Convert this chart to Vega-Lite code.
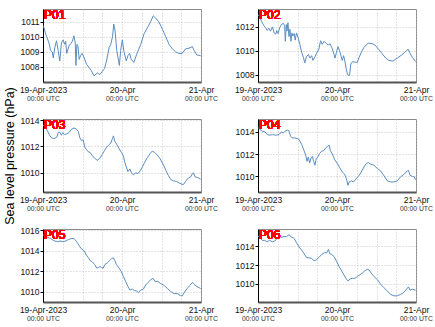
{
"$schema":"https://vega.github.io/schema/vega-lite/v6.json",
"padding":{"left":2,"top":8,"right":0,"bottom":0},
"bounds":"flush",
"columns":2,
"spacing":{"row":37,"column":57},
"config":{
 "font":"Liberation Sans",
 "view":{"stroke":"#8a8a8a","strokeWidth":1},
 "axis":{"labelFont":"Liberation Sans","labelFontSize":8.5,"labelColor":"#111","gridColor":"#b8b8b8","gridDash":[1,2],"gridWidth":0.8,"titleFont":"Liberation Sans","titleFontWeight":"normal","titleColor":"#000"},
 "axisY":{"domainColor":"#000","tickColor":"#000","tickSize":3,"labelPadding":1,"grid":true,"format":"d"}
},
"datasets":{
"P01":[
{"t":"2023-04-19T00:00Z","p":1010.74},{"t":"2023-04-19T00:18Z","p":1010.6},{"t":"2023-04-19T00:48Z","p":1010.2},{"t":"2023-04-19T01:48Z","p":1009.6},{"t":"2023-04-19T02:18Z","p":1009.1},{"t":"2023-04-19T02:48Z","p":1009.0},{"t":"2023-04-19T03:06Z","p":1008.6},{"t":"2023-04-19T03:36Z","p":1009.3},{"t":"2023-04-19T04:06Z","p":1009.74},{"t":"2023-04-19T04:36Z","p":1009.1},{"t":"2023-04-19T05:06Z","p":1008.4},{"t":"2023-04-19T05:36Z","p":1009.6},{"t":"2023-04-19T06:06Z","p":1009.8},{"t":"2023-04-19T06:36Z","p":1009.5},{"t":"2023-04-19T06:54Z","p":1009.7},{"t":"2023-04-19T07:12Z","p":1008.9},{"t":"2023-04-19T07:54Z","p":1009.4},{"t":"2023-04-19T08:24Z","p":1009.55},{"t":"2023-04-19T08:54Z","p":1009.7},{"t":"2023-04-19T09:24Z","p":1010.07},{"t":"2023-04-19T09:48Z","p":1009.6},{"t":"2023-04-19T10:00Z","p":1008.1},{"t":"2023-04-19T10:18Z","p":1009.5},{"t":"2023-04-19T10:36Z","p":1009.4},{"t":"2023-04-19T11:00Z","p":1008.5},{"t":"2023-04-19T11:24Z","p":1008.75},{"t":"2023-04-19T11:54Z","p":1008.9},{"t":"2023-04-19T12:30Z","p":1008.6},{"t":"2023-04-19T13:18Z","p":1008.15},{"t":"2023-04-19T14:00Z","p":1007.97},{"t":"2023-04-19T14:42Z","p":1007.75},{"t":"2023-04-19T15:30Z","p":1007.4},{"t":"2023-04-19T16:30Z","p":1007.6},{"t":"2023-04-19T17:18Z","p":1007.5},{"t":"2023-04-19T18:00Z","p":1007.7},{"t":"2023-04-19T18:42Z","p":1007.9},{"t":"2023-04-19T19:18Z","p":1008.4},{"t":"2023-04-19T20:06Z","p":1009.3},{"t":"2023-04-19T20:36Z","p":1009.5},{"t":"2023-04-19T21:06Z","p":1010.0},{"t":"2023-04-19T21:30Z","p":1010.85},{"t":"2023-04-19T21:54Z","p":1010.4},{"t":"2023-04-19T22:24Z","p":1009.1},{"t":"2023-04-19T22:48Z","p":1008.6},{"t":"2023-04-19T23:12Z","p":1008.1},{"t":"2023-04-19T23:36Z","p":1009.1},{"t":"2023-04-20T00:06Z","p":1009.8},{"t":"2023-04-20T00:36Z","p":1009.0},{"t":"2023-04-20T01:18Z","p":1008.4},{"t":"2023-04-20T01:48Z","p":1008.75},{"t":"2023-04-20T02:18Z","p":1008.9},{"t":"2023-04-20T02:48Z","p":1008.5},{"t":"2023-04-20T03:36Z","p":1008.3},{"t":"2023-04-20T04:30Z","p":1008.86},{"t":"2023-04-20T05:42Z","p":1009.5},{"t":"2023-04-20T06:42Z","p":1010.2},{"t":"2023-04-20T07:42Z","p":1010.6},{"t":"2023-04-20T08:42Z","p":1011.0},{"t":"2023-04-20T09:30Z","p":1011.4},{"t":"2023-04-20T10:12Z","p":1011.25},{"t":"2023-04-20T11:12Z","p":1011.0},{"t":"2023-04-20T12:18Z","p":1010.5},{"t":"2023-04-20T13:18Z","p":1010.0},{"t":"2023-04-20T14:18Z","p":1009.5},{"t":"2023-04-20T15:18Z","p":1009.2},{"t":"2023-04-20T16:18Z","p":1009.0},{"t":"2023-04-20T17:18Z","p":1008.9},{"t":"2023-04-20T18:18Z","p":1008.9},{"t":"2023-04-20T19:18Z","p":1009.2},{"t":"2023-04-20T20:24Z","p":1009.25},{"t":"2023-04-20T21:24Z","p":1009.35},{"t":"2023-04-20T21:54Z","p":1009.1},{"t":"2023-04-20T22:42Z","p":1008.8},{"t":"2023-04-20T23:54Z","p":1008.75}
],
"P02":[
{"t":"2023-04-19T00:00Z","p":1013.0},{"t":"2023-04-19T00:30Z","p":1012.9},{"t":"2023-04-19T01:06Z","p":1012.45},{"t":"2023-04-19T01:48Z","p":1012.1},{"t":"2023-04-19T02:18Z","p":1011.95},{"t":"2023-04-19T02:48Z","p":1011.7},{"t":"2023-04-19T03:18Z","p":1011.9},{"t":"2023-04-19T03:48Z","p":1011.65},{"t":"2023-04-19T04:24Z","p":1012.0},{"t":"2023-04-19T04:54Z","p":1011.5},{"t":"2023-04-19T05:24Z","p":1011.4},{"t":"2023-04-19T05:42Z","p":1011.7},{"t":"2023-04-19T06:06Z","p":1011.45},{"t":"2023-04-19T06:36Z","p":1011.95},{"t":"2023-04-19T07:06Z","p":1012.2},{"t":"2023-04-19T07:42Z","p":1012.3},{"t":"2023-04-19T08:06Z","p":1012.1},{"t":"2023-04-19T08:18Z","p":1010.8},{"t":"2023-04-19T08:36Z","p":1012.2},{"t":"2023-04-19T08:48Z","p":1011.65},{"t":"2023-04-19T09:06Z","p":1012.35},{"t":"2023-04-19T09:24Z","p":1011.2},{"t":"2023-04-19T09:42Z","p":1011.8},{"t":"2023-04-19T10:00Z","p":1010.8},{"t":"2023-04-19T10:18Z","p":1011.5},{"t":"2023-04-19T10:36Z","p":1011.25},{"t":"2023-04-19T11:00Z","p":1011.45},{"t":"2023-04-19T11:18Z","p":1010.9},{"t":"2023-04-19T11:42Z","p":1011.5},{"t":"2023-04-19T12:12Z","p":1011.1},{"t":"2023-04-19T12:42Z","p":1010.55},{"t":"2023-04-19T13:18Z","p":1009.85},{"t":"2023-04-19T13:48Z","p":1009.45},{"t":"2023-04-19T14:12Z","p":1009.0},{"t":"2023-04-19T14:42Z","p":1009.5},{"t":"2023-04-19T15:18Z","p":1009.7},{"t":"2023-04-19T15:48Z","p":1009.4},{"t":"2023-04-19T16:18Z","p":1009.6},{"t":"2023-04-19T16:42Z","p":1009.2},{"t":"2023-04-19T17:18Z","p":1009.5},{"t":"2023-04-19T17:48Z","p":1009.8},{"t":"2023-04-19T18:30Z","p":1010.15},{"t":"2023-04-19T19:00Z","p":1010.85},{"t":"2023-04-19T19:30Z","p":1010.55},{"t":"2023-04-19T20:06Z","p":1010.8},{"t":"2023-04-19T20:48Z","p":1010.6},{"t":"2023-04-19T21:24Z","p":1010.5},{"t":"2023-04-19T21:54Z","p":1010.6},{"t":"2023-04-19T22:36Z","p":1010.15},{"t":"2023-04-19T23:06Z","p":1009.7},{"t":"2023-04-19T23:24Z","p":1009.4},{"t":"2023-04-19T23:48Z","p":1009.85},{"t":"2023-04-20T00:18Z","p":1010.35},{"t":"2023-04-20T00:48Z","p":1010.0},{"t":"2023-04-20T01:18Z","p":1009.5},{"t":"2023-04-20T01:36Z","p":1009.2},{"t":"2023-04-20T02:00Z","p":1009.6},{"t":"2023-04-20T02:24Z","p":1009.15},{"t":"2023-04-20T02:48Z","p":1008.5},{"t":"2023-04-20T03:12Z","p":1008.0},{"t":"2023-04-20T03:48Z","p":1007.95},{"t":"2023-04-20T04:12Z","p":1008.9},{"t":"2023-04-20T04:42Z","p":1009.1},{"t":"2023-04-20T05:30Z","p":1009.05},{"t":"2023-04-20T06:12Z","p":1009.05},{"t":"2023-04-20T06:42Z","p":1009.45},{"t":"2023-04-20T07:30Z","p":1009.95},{"t":"2023-04-20T08:12Z","p":1010.3},{"t":"2023-04-20T08:54Z","p":1010.5},{"t":"2023-04-20T09:30Z","p":1010.65},{"t":"2023-04-20T10:42Z","p":1010.6},{"t":"2023-04-20T11:30Z","p":1010.5},{"t":"2023-04-20T12:36Z","p":1010.15},{"t":"2023-04-20T13:36Z","p":1009.8},{"t":"2023-04-20T14:48Z","p":1009.4},{"t":"2023-04-20T15:48Z","p":1009.2},{"t":"2023-04-20T17:00Z","p":1009.15},{"t":"2023-04-20T18:18Z","p":1009.4},{"t":"2023-04-20T19:36Z","p":1009.65},{"t":"2023-04-20T20:54Z","p":1009.95},{"t":"2023-04-20T21:36Z","p":1010.15},{"t":"2023-04-20T22:12Z","p":1009.8},{"t":"2023-04-20T22:54Z","p":1009.45},{"t":"2023-04-20T23:54Z","p":1009.1}
],
"P03":[
{"t":"2023-04-19T00:00Z","p":1013.6},{"t":"2023-04-19T00:48Z","p":1013.55},{"t":"2023-04-19T01:18Z","p":1013.2},{"t":"2023-04-19T02:00Z","p":1012.85},{"t":"2023-04-19T02:36Z","p":1012.65},{"t":"2023-04-19T03:18Z","p":1012.6},{"t":"2023-04-19T04:12Z","p":1012.7},{"t":"2023-04-19T04:36Z","p":1013.05},{"t":"2023-04-19T05:00Z","p":1013.1},{"t":"2023-04-19T05:36Z","p":1012.85},{"t":"2023-04-19T06:00Z","p":1013.05},{"t":"2023-04-19T06:36Z","p":1012.9},{"t":"2023-04-19T07:12Z","p":1012.95},{"t":"2023-04-19T07:54Z","p":1013.05},{"t":"2023-04-19T08:36Z","p":1013.3},{"t":"2023-04-19T09:24Z","p":1013.4},{"t":"2023-04-19T10:12Z","p":1013.3},{"t":"2023-04-19T10:42Z","p":1013.15},{"t":"2023-04-19T11:12Z","p":1012.65},{"t":"2023-04-19T11:42Z","p":1012.45},{"t":"2023-04-19T12:12Z","p":1012.5},{"t":"2023-04-19T12:42Z","p":1011.95},{"t":"2023-04-19T13:06Z","p":1011.8},{"t":"2023-04-19T13:42Z","p":1011.6},{"t":"2023-04-19T14:18Z","p":1011.55},{"t":"2023-04-19T15:00Z","p":1011.3},{"t":"2023-04-19T15:42Z","p":1011.1},{"t":"2023-04-19T16:30Z","p":1010.95},{"t":"2023-04-19T17:18Z","p":1011.1},{"t":"2023-04-19T18:00Z","p":1011.4},{"t":"2023-04-19T18:42Z","p":1011.7},{"t":"2023-04-19T19:18Z","p":1011.95},{"t":"2023-04-19T20:06Z","p":1012.15},{"t":"2023-04-19T20:36Z","p":1012.25},{"t":"2023-04-19T21:06Z","p":1012.6},{"t":"2023-04-19T21:24Z","p":1012.8},{"t":"2023-04-19T21:48Z","p":1012.4},{"t":"2023-04-19T22:24Z","p":1012.15},{"t":"2023-04-19T23:06Z","p":1011.85},{"t":"2023-04-19T23:48Z","p":1011.55},{"t":"2023-04-20T00:24Z","p":1011.3},{"t":"2023-04-20T00:48Z","p":1010.85},{"t":"2023-04-20T01:18Z","p":1010.45},{"t":"2023-04-20T01:48Z","p":1010.1},{"t":"2023-04-20T02:24Z","p":1010.3},{"t":"2023-04-20T02:54Z","p":1010.0},{"t":"2023-04-20T03:24Z","p":1009.85},{"t":"2023-04-20T04:12Z","p":1010.0},{"t":"2023-04-20T04:54Z","p":1009.95},{"t":"2023-04-20T05:30Z","p":1010.15},{"t":"2023-04-20T06:12Z","p":1010.45},{"t":"2023-04-20T06:54Z","p":1010.8},{"t":"2023-04-20T07:42Z","p":1011.15},{"t":"2023-04-20T08:30Z","p":1011.45},{"t":"2023-04-20T09:12Z","p":1011.65},{"t":"2023-04-20T09:54Z","p":1011.55},{"t":"2023-04-20T10:42Z","p":1011.35},{"t":"2023-04-20T11:30Z","p":1011.1},{"t":"2023-04-20T12:30Z","p":1010.65},{"t":"2023-04-20T13:18Z","p":1010.2},{"t":"2023-04-20T14:06Z","p":1009.8},{"t":"2023-04-20T14:48Z","p":1009.5},{"t":"2023-04-20T15:36Z","p":1009.4},{"t":"2023-04-20T16:36Z","p":1009.35},{"t":"2023-04-20T17:36Z","p":1009.2},{"t":"2023-04-20T18:36Z","p":1009.1},{"t":"2023-04-20T19:18Z","p":1009.35},{"t":"2023-04-20T20:06Z","p":1009.6},{"t":"2023-04-20T20:54Z","p":1009.7},{"t":"2023-04-20T21:24Z","p":1009.95},{"t":"2023-04-20T21:42Z","p":1010.0},{"t":"2023-04-20T22:12Z","p":1009.7},{"t":"2023-04-20T22:54Z","p":1009.65},{"t":"2023-04-20T23:24Z","p":1009.6},{"t":"2023-04-20T23:54Z","p":1009.5}
],
"P04":[
{"t":"2023-04-19T00:00Z","p":1014.4},{"t":"2023-04-19T00:36Z","p":1014.2},{"t":"2023-04-19T01:18Z","p":1014.05},{"t":"2023-04-19T02:06Z","p":1014.0},{"t":"2023-04-19T02:48Z","p":1013.75},{"t":"2023-04-19T03:30Z","p":1013.7},{"t":"2023-04-19T04:24Z","p":1013.75},{"t":"2023-04-19T05:24Z","p":1013.7},{"t":"2023-04-19T06:24Z","p":1013.75},{"t":"2023-04-19T07:06Z","p":1014.0},{"t":"2023-04-19T07:42Z","p":1013.9},{"t":"2023-04-19T08:12Z","p":1014.05},{"t":"2023-04-19T08:54Z","p":1014.15},{"t":"2023-04-19T09:24Z","p":1014.1},{"t":"2023-04-19T09:54Z","p":1013.6},{"t":"2023-04-19T10:24Z","p":1013.45},{"t":"2023-04-19T11:12Z","p":1013.45},{"t":"2023-04-19T11:54Z","p":1013.4},{"t":"2023-04-19T12:30Z","p":1013.3},{"t":"2023-04-19T13:18Z","p":1012.85},{"t":"2023-04-19T14:00Z","p":1012.3},{"t":"2023-04-19T14:30Z","p":1011.9},{"t":"2023-04-19T14:54Z","p":1011.35},{"t":"2023-04-19T15:18Z","p":1011.75},{"t":"2023-04-19T15:42Z","p":1011.2},{"t":"2023-04-19T16:06Z","p":1011.65},{"t":"2023-04-19T16:30Z","p":1011.8},{"t":"2023-04-19T16:54Z","p":1011.35},{"t":"2023-04-19T17:18Z","p":1011.0},{"t":"2023-04-19T17:42Z","p":1011.6},{"t":"2023-04-19T18:12Z","p":1011.75},{"t":"2023-04-19T18:42Z","p":1012.05},{"t":"2023-04-19T19:18Z","p":1012.25},{"t":"2023-04-19T19:54Z","p":1012.3},{"t":"2023-04-19T20:36Z","p":1012.55},{"t":"2023-04-19T21:12Z","p":1012.7},{"t":"2023-04-19T21:36Z","p":1012.8},{"t":"2023-04-19T22:00Z","p":1012.3},{"t":"2023-04-19T22:36Z","p":1012.0},{"t":"2023-04-19T23:18Z","p":1011.5},{"t":"2023-04-20T00:06Z","p":1011.15},{"t":"2023-04-20T00:48Z","p":1010.8},{"t":"2023-04-20T01:36Z","p":1010.4},{"t":"2023-04-20T02:18Z","p":1010.2},{"t":"2023-04-20T02:54Z","p":1009.75},{"t":"2023-04-20T03:18Z","p":1009.2},{"t":"2023-04-20T03:42Z","p":1009.5},{"t":"2023-04-20T04:24Z","p":1009.6},{"t":"2023-04-20T05:00Z","p":1009.5},{"t":"2023-04-20T05:42Z","p":1009.75},{"t":"2023-04-20T06:30Z","p":1010.0},{"t":"2023-04-20T07:18Z","p":1010.35},{"t":"2023-04-20T08:12Z","p":1010.85},{"t":"2023-04-20T08:54Z","p":1011.15},{"t":"2023-04-20T09:30Z","p":1011.25},{"t":"2023-04-20T10:12Z","p":1011.1},{"t":"2023-04-20T11:12Z","p":1011.0},{"t":"2023-04-20T12:18Z","p":1010.7},{"t":"2023-04-20T13:12Z","p":1010.5},{"t":"2023-04-20T14:18Z","p":1010.05},{"t":"2023-04-20T15:18Z","p":1009.6},{"t":"2023-04-20T16:18Z","p":1009.5},{"t":"2023-04-20T17:18Z","p":1009.5},{"t":"2023-04-20T18:18Z","p":1009.6},{"t":"2023-04-20T19:18Z","p":1009.95},{"t":"2023-04-20T20:24Z","p":1010.2},{"t":"2023-04-20T21:24Z","p":1010.5},{"t":"2023-04-20T21:42Z","p":1010.55},{"t":"2023-04-20T22:12Z","p":1010.1},{"t":"2023-04-20T22:54Z","p":1010.0},{"t":"2023-04-20T23:30Z","p":1009.95},{"t":"2023-04-20T23:54Z","p":1009.7}
],
"P05":[
{"t":"2023-04-19T00:00Z","p":1015.55},{"t":"2023-04-19T00:48Z","p":1015.45},{"t":"2023-04-19T01:30Z","p":1015.3},{"t":"2023-04-19T02:18Z","p":1015.2},{"t":"2023-04-19T03:00Z","p":1015.05},{"t":"2023-04-19T03:36Z","p":1014.95},{"t":"2023-04-19T04:24Z","p":1014.9},{"t":"2023-04-19T05:12Z","p":1014.95},{"t":"2023-04-19T06:00Z","p":1014.9},{"t":"2023-04-19T06:54Z","p":1014.95},{"t":"2023-04-19T07:42Z","p":1015.1},{"t":"2023-04-19T08:36Z","p":1015.2},{"t":"2023-04-19T09:24Z","p":1015.2},{"t":"2023-04-19T10:12Z","p":1014.9},{"t":"2023-04-19T10:54Z","p":1014.55},{"t":"2023-04-19T11:36Z","p":1014.2},{"t":"2023-04-19T12:30Z","p":1014.0},{"t":"2023-04-19T13:06Z","p":1013.6},{"t":"2023-04-19T13:42Z","p":1013.35},{"t":"2023-04-19T14:18Z","p":1013.05},{"t":"2023-04-19T15:00Z","p":1012.9},{"t":"2023-04-19T15:42Z","p":1012.65},{"t":"2023-04-19T16:18Z","p":1012.3},{"t":"2023-04-19T16:48Z","p":1012.35},{"t":"2023-04-19T17:18Z","p":1012.45},{"t":"2023-04-19T17:48Z","p":1012.35},{"t":"2023-04-19T18:18Z","p":1012.3},{"t":"2023-04-19T18:48Z","p":1012.65},{"t":"2023-04-19T19:30Z","p":1012.8},{"t":"2023-04-19T20:18Z","p":1013.05},{"t":"2023-04-19T20:54Z","p":1013.25},{"t":"2023-04-19T21:24Z","p":1013.3},{"t":"2023-04-19T21:48Z","p":1013.05},{"t":"2023-04-19T22:18Z","p":1012.65},{"t":"2023-04-19T23:06Z","p":1012.3},{"t":"2023-04-19T23:48Z","p":1011.95},{"t":"2023-04-20T00:24Z","p":1011.5},{"t":"2023-04-20T01:06Z","p":1011.0},{"t":"2023-04-20T01:48Z","p":1010.5},{"t":"2023-04-20T02:24Z","p":1010.15},{"t":"2023-04-20T03:06Z","p":1010.25},{"t":"2023-04-20T03:48Z","p":1010.1},{"t":"2023-04-20T04:30Z","p":1010.05},{"t":"2023-04-20T05:00Z","p":1009.9},{"t":"2023-04-20T05:42Z","p":1010.15},{"t":"2023-04-20T06:30Z","p":1010.25},{"t":"2023-04-20T07:12Z","p":1010.65},{"t":"2023-04-20T07:54Z","p":1010.9},{"t":"2023-04-20T08:42Z","p":1011.15},{"t":"2023-04-20T09:24Z","p":1011.3},{"t":"2023-04-20T10:00Z","p":1011.0},{"t":"2023-04-20T10:54Z","p":1011.0},{"t":"2023-04-20T11:42Z","p":1010.8},{"t":"2023-04-20T12:48Z","p":1010.6},{"t":"2023-04-20T13:48Z","p":1010.3},{"t":"2023-04-20T14:48Z","p":1010.0},{"t":"2023-04-20T15:48Z","p":1009.8},{"t":"2023-04-20T16:48Z","p":1009.8},{"t":"2023-04-20T17:48Z","p":1009.6},{"t":"2023-04-20T18:24Z","p":1009.6},{"t":"2023-04-20T19:00Z","p":1009.95},{"t":"2023-04-20T19:48Z","p":1010.3},{"t":"2023-04-20T20:36Z","p":1010.6},{"t":"2023-04-20T21:24Z","p":1010.9},{"t":"2023-04-20T21:54Z","p":1010.7},{"t":"2023-04-20T22:42Z","p":1010.5},{"t":"2023-04-20T23:54Z","p":1010.3}
],
"P06":[
{"t":"2023-04-19T00:00Z","p":1015.05},{"t":"2023-04-19T00:36Z","p":1014.9},{"t":"2023-04-19T01:18Z","p":1014.6},{"t":"2023-04-19T02:00Z","p":1014.6},{"t":"2023-04-19T02:48Z","p":1014.45},{"t":"2023-04-19T03:30Z","p":1014.6},{"t":"2023-04-19T04:24Z","p":1014.45},{"t":"2023-04-19T05:12Z","p":1014.55},{"t":"2023-04-19T06:00Z","p":1014.9},{"t":"2023-04-19T06:54Z","p":1014.9},{"t":"2023-04-19T07:54Z","p":1015.0},{"t":"2023-04-19T08:42Z","p":1015.0},{"t":"2023-04-19T09:24Z","p":1015.2},{"t":"2023-04-19T10:12Z","p":1014.95},{"t":"2023-04-19T11:00Z","p":1014.8},{"t":"2023-04-19T11:42Z","p":1014.35},{"t":"2023-04-19T12:30Z","p":1013.9},{"t":"2023-04-19T13:18Z","p":1013.55},{"t":"2023-04-19T14:00Z","p":1013.2},{"t":"2023-04-19T14:42Z","p":1012.8},{"t":"2023-04-19T15:30Z","p":1012.75},{"t":"2023-04-19T16:18Z","p":1012.7},{"t":"2023-04-19T17:00Z","p":1012.45},{"t":"2023-04-19T17:42Z","p":1012.55},{"t":"2023-04-19T18:30Z","p":1012.8},{"t":"2023-04-19T19:18Z","p":1013.1},{"t":"2023-04-19T20:12Z","p":1013.3},{"t":"2023-04-19T20:54Z","p":1013.3},{"t":"2023-04-19T21:24Z","p":1013.65},{"t":"2023-04-19T21:48Z","p":1013.2},{"t":"2023-04-19T22:24Z","p":1013.1},{"t":"2023-04-19T23:06Z","p":1012.9},{"t":"2023-04-19T23:48Z","p":1012.45},{"t":"2023-04-20T00:36Z","p":1011.85},{"t":"2023-04-20T01:24Z","p":1011.4},{"t":"2023-04-20T02:06Z","p":1010.95},{"t":"2023-04-20T02:48Z","p":1010.55},{"t":"2023-04-20T03:24Z","p":1010.3},{"t":"2023-04-20T04:00Z","p":1010.55},{"t":"2023-04-20T04:42Z","p":1010.6},{"t":"2023-04-20T05:30Z","p":1010.6},{"t":"2023-04-20T06:12Z","p":1010.8},{"t":"2023-04-20T06:54Z","p":1010.95},{"t":"2023-04-20T07:42Z","p":1011.15},{"t":"2023-04-20T08:30Z","p":1011.4},{"t":"2023-04-20T09:12Z","p":1011.55},{"t":"2023-04-20T09:42Z","p":1011.5},{"t":"2023-04-20T10:24Z","p":1011.15},{"t":"2023-04-20T11:12Z","p":1010.8},{"t":"2023-04-20T12:18Z","p":1010.45},{"t":"2023-04-20T13:18Z","p":1009.95},{"t":"2023-04-20T14:18Z","p":1009.6},{"t":"2023-04-20T15:18Z","p":1009.25},{"t":"2023-04-20T16:18Z","p":1008.9},{"t":"2023-04-20T17:18Z","p":1008.75},{"t":"2023-04-20T18:18Z","p":1008.75},{"t":"2023-04-20T19:18Z","p":1008.9},{"t":"2023-04-20T20:06Z","p":1009.05},{"t":"2023-04-20T20:54Z","p":1009.35},{"t":"2023-04-20T21:42Z","p":1009.7},{"t":"2023-04-20T22:12Z","p":1009.35},{"t":"2023-04-20T22:54Z","p":1009.45},{"t":"2023-04-20T23:54Z","p":1009.35}
]
},
"concat":[
{"width":158,"height":73,"data":{"name":"P01"},"resolve":{"axis":{"x":"independent"}},"layer":[
 {"mark":{"type":"line","clip":true,"color":"#5b8dc0","strokeWidth":1},"encoding":{
  "x":{"field":"t","type":"temporal","title":null,"scale":{"type":"utc","domain":[1681862400000,1682035200000]},"axis":{"orient":"bottom","values":[1681862400000,1681884000000,1681905600000,1681927200000,1681948800000,1681970400000,1681992000000,1682013600000,1682035200000],"labelExpr":"utchours(datum.value) == 0 ? (utcdate(datum.value) == 19 ? '19-Apr-2023' : utcFormat(datum.value, '%d-%b')) : ''","grid":true,"tickSize":0,"labelPadding":3,"domainColor":"#555","domainWidth":2,"labelOverlap":false,"labelBound":false,"labelFlush":false}},
  "y":{"field":"p","type":"quantitative","title":null,"scale":{"domain":[1007.0,1011.85],"nice":false,"zero":false},"axis":{"values":[1008,1009,1010,1011],"format":"d"}}}},
 {"mark":{"type":"rule","opacity":0},"encoding":{
  "x":{"field":"t","type":"temporal","title":null,"axis":{"orient":"bottom","values":[1681862400000,1681948800000,1682035200000],"labelExpr":"'00:00 UTC'","grid":false,"domain":false,"ticks":false,"tickSize":0,"labelPadding":13,"labelFontSize":6.8,"labelColor":"#333","labelOverlap":false,"labelBound":false,"labelFlush":false}}}},
 {"mark":{"type":"text","text":"P01","color":"#ff0000","fontSize":12,"fontWeight":"normal","align":"left","baseline":"top","dx":1,"dy":1},"encoding":{
  "x":{"datum":{"year":2023,"month":4,"date":19,"utc":true},"type":"temporal","axis":null},
  "y":{"datum":1011.85,"type":"quantitative","title":null,"axis":{"values":[1008,1009,1010,1011],"format":"d"}}}}
]},
{"width":158,"height":73,"data":{"name":"P02"},"resolve":{"axis":{"x":"independent"}},"layer":[
 {"mark":{"type":"line","clip":true,"color":"#5b8dc0","strokeWidth":1},"encoding":{
  "x":{"field":"t","type":"temporal","title":null,"scale":{"type":"utc","domain":[1681862400000,1682035200000]},"axis":{"orient":"bottom","values":[1681862400000,1681884000000,1681905600000,1681927200000,1681948800000,1681970400000,1681992000000,1682013600000,1682035200000],"labelExpr":"utchours(datum.value) == 0 ? (utcdate(datum.value) == 19 ? '19-Apr-2023' : utcFormat(datum.value, '%d-%b')) : ''","grid":true,"tickSize":0,"labelPadding":3,"domainColor":"#555","domainWidth":2,"labelOverlap":false,"labelBound":false,"labelFlush":false}},
  "y":{"field":"p","type":"quantitative","title":null,"scale":{"domain":[1007.4,1013.5],"nice":false,"zero":false},"axis":{"values":[1008,1010,1012],"format":"d"}}}},
 {"mark":{"type":"rule","opacity":0},"encoding":{
  "x":{"field":"t","type":"temporal","title":null,"axis":{"orient":"bottom","values":[1681862400000,1681948800000,1682035200000],"labelExpr":"'00:00 UTC'","grid":false,"domain":false,"ticks":false,"tickSize":0,"labelPadding":13,"labelFontSize":6.8,"labelColor":"#333","labelOverlap":false,"labelBound":false,"labelFlush":false}}}},
 {"mark":{"type":"text","text":"P02","color":"#ff0000","fontSize":12,"fontWeight":"normal","align":"left","baseline":"top","dx":1,"dy":1},"encoding":{
  "x":{"datum":{"year":2023,"month":4,"date":19,"utc":true},"type":"temporal","axis":null},
  "y":{"datum":1013.5,"type":"quantitative","title":null,"axis":{"values":[1008,1010,1012],"format":"d"}}}}
]},
{"width":158,"height":73,"data":{"name":"P03"},"resolve":{"axis":{"x":"independent"}},"layer":[
 {"mark":{"type":"line","clip":true,"color":"#5b8dc0","strokeWidth":1},"encoding":{
  "x":{"field":"t","type":"temporal","title":null,"scale":{"type":"utc","domain":[1681862400000,1682035200000]},"axis":{"orient":"bottom","values":[1681862400000,1681884000000,1681905600000,1681927200000,1681948800000,1681970400000,1681992000000,1682013600000,1682035200000],"labelExpr":"utchours(datum.value) == 0 ? (utcdate(datum.value) == 19 ? '19-Apr-2023' : utcFormat(datum.value, '%d-%b')) : ''","grid":true,"tickSize":0,"labelPadding":3,"domainColor":"#555","domainWidth":2,"labelOverlap":false,"labelBound":false,"labelFlush":false}},
  "y":{"field":"p","type":"quantitative","title":"Sea level pressure (hPa)","scale":{"domain":[1008.55,1014.08],"nice":false,"zero":false},"axis":{"values":[1010,1012,1014],"format":"d","titleFontSize":12.5,"titlePadding":4}}}},
 {"mark":{"type":"rule","opacity":0},"encoding":{
  "x":{"field":"t","type":"temporal","title":null,"axis":{"orient":"bottom","values":[1681862400000,1681948800000,1682035200000],"labelExpr":"'00:00 UTC'","grid":false,"domain":false,"ticks":false,"tickSize":0,"labelPadding":13,"labelFontSize":6.8,"labelColor":"#333","labelOverlap":false,"labelBound":false,"labelFlush":false}}}},
 {"mark":{"type":"text","text":"P03","color":"#ff0000","fontSize":12,"fontWeight":"normal","align":"left","baseline":"top","dx":1,"dy":1},"encoding":{
  "x":{"datum":{"year":2023,"month":4,"date":19,"utc":true},"type":"temporal","axis":null},
  "y":{"datum":1014.08,"type":"quantitative","title":"Sea level pressure (hPa)","axis":{"values":[1010,1012,1014],"format":"d","titleFontSize":12.5,"titlePadding":4}}}}
]},
{"width":158,"height":73,"data":{"name":"P04"},"resolve":{"axis":{"x":"independent"}},"layer":[
 {"mark":{"type":"line","clip":true,"color":"#5b8dc0","strokeWidth":1},"encoding":{
  "x":{"field":"t","type":"temporal","title":null,"scale":{"type":"utc","domain":[1681862400000,1682035200000]},"axis":{"orient":"bottom","values":[1681862400000,1681884000000,1681905600000,1681927200000,1681948800000,1681970400000,1681992000000,1682013600000,1682035200000],"labelExpr":"utchours(datum.value) == 0 ? (utcdate(datum.value) == 19 ? '19-Apr-2023' : utcFormat(datum.value, '%d-%b')) : ''","grid":true,"tickSize":0,"labelPadding":3,"domainColor":"#555","domainWidth":2,"labelOverlap":false,"labelBound":false,"labelFlush":false}},
  "y":{"field":"p","type":"quantitative","title":null,"scale":{"domain":[1008.6,1015.15],"nice":false,"zero":false},"axis":{"values":[1010,1012,1014],"format":"d"}}}},
 {"mark":{"type":"rule","opacity":0},"encoding":{
  "x":{"field":"t","type":"temporal","title":null,"axis":{"orient":"bottom","values":[1681862400000,1681948800000,1682035200000],"labelExpr":"'00:00 UTC'","grid":false,"domain":false,"ticks":false,"tickSize":0,"labelPadding":13,"labelFontSize":6.8,"labelColor":"#333","labelOverlap":false,"labelBound":false,"labelFlush":false}}}},
 {"mark":{"type":"text","text":"P04","color":"#ff0000","fontSize":12,"fontWeight":"normal","align":"left","baseline":"top","dx":1,"dy":1},"encoding":{
  "x":{"datum":{"year":2023,"month":4,"date":19,"utc":true},"type":"temporal","axis":null},
  "y":{"datum":1015.15,"type":"quantitative","title":null,"axis":{"values":[1010,1012,1014],"format":"d"}}}}
]},
{"width":158,"height":73,"data":{"name":"P05"},"resolve":{"axis":{"x":"independent"}},"layer":[
 {"mark":{"type":"line","clip":true,"color":"#5b8dc0","strokeWidth":1},"encoding":{
  "x":{"field":"t","type":"temporal","title":null,"scale":{"type":"utc","domain":[1681862400000,1682035200000]},"axis":{"orient":"bottom","values":[1681862400000,1681884000000,1681905600000,1681927200000,1681948800000,1681970400000,1681992000000,1682013600000,1682035200000],"labelExpr":"utchours(datum.value) == 0 ? (utcdate(datum.value) == 19 ? '19-Apr-2023' : utcFormat(datum.value, '%d-%b')) : ''","grid":true,"tickSize":0,"labelPadding":3,"domainColor":"#555","domainWidth":2,"labelOverlap":false,"labelBound":false,"labelFlush":false}},
  "y":{"field":"p","type":"quantitative","title":null,"scale":{"domain":[1008.98,1016.13],"nice":false,"zero":false},"axis":{"values":[1010,1012,1014,1016],"format":"d"}}}},
 {"mark":{"type":"rule","opacity":0},"encoding":{
  "x":{"field":"t","type":"temporal","title":null,"axis":{"orient":"bottom","values":[1681862400000,1681948800000,1682035200000],"labelExpr":"'00:00 UTC'","grid":false,"domain":false,"ticks":false,"tickSize":0,"labelPadding":13,"labelFontSize":6.8,"labelColor":"#333","labelOverlap":false,"labelBound":false,"labelFlush":false}}}},
 {"mark":{"type":"text","text":"P05","color":"#ff0000","fontSize":12,"fontWeight":"normal","align":"left","baseline":"top","dx":1,"dy":1},"encoding":{
  "x":{"datum":{"year":2023,"month":4,"date":19,"utc":true},"type":"temporal","axis":null},
  "y":{"datum":1016.13,"type":"quantitative","title":null,"axis":{"values":[1010,1012,1014,1016],"format":"d"}}}}
]},
{"width":158,"height":73,"data":{"name":"P06"},"resolve":{"axis":{"x":"independent"}},"layer":[
 {"mark":{"type":"line","clip":true,"color":"#5b8dc0","strokeWidth":1},"encoding":{
  "x":{"field":"t","type":"temporal","title":null,"scale":{"type":"utc","domain":[1681862400000,1682035200000]},"axis":{"orient":"bottom","values":[1681862400000,1681884000000,1681905600000,1681927200000,1681948800000,1681970400000,1681992000000,1682013600000,1682035200000],"labelExpr":"utchours(datum.value) == 0 ? (utcdate(datum.value) == 19 ? '19-Apr-2023' : utcFormat(datum.value, '%d-%b')) : ''","grid":true,"tickSize":0,"labelPadding":3,"domainColor":"#555","domainWidth":2,"labelOverlap":false,"labelBound":false,"labelFlush":false}},
  "y":{"field":"p","type":"quantitative","title":null,"scale":{"domain":[1008.1,1015.8],"nice":false,"zero":false},"axis":{"values":[1010,1012,1014],"format":"d"}}}},
 {"mark":{"type":"rule","opacity":0},"encoding":{
  "x":{"field":"t","type":"temporal","title":null,"axis":{"orient":"bottom","values":[1681862400000,1681948800000,1682035200000],"labelExpr":"'00:00 UTC'","grid":false,"domain":false,"ticks":false,"tickSize":0,"labelPadding":13,"labelFontSize":6.8,"labelColor":"#333","labelOverlap":false,"labelBound":false,"labelFlush":false}}}},
 {"mark":{"type":"text","text":"P06","color":"#ff0000","fontSize":12,"fontWeight":"normal","align":"left","baseline":"top","dx":1,"dy":1},"encoding":{
  "x":{"datum":{"year":2023,"month":4,"date":19,"utc":true},"type":"temporal","axis":null},
  "y":{"datum":1015.8,"type":"quantitative","title":null,"axis":{"values":[1010,1012,1014],"format":"d"}}}}
]}
]
}
